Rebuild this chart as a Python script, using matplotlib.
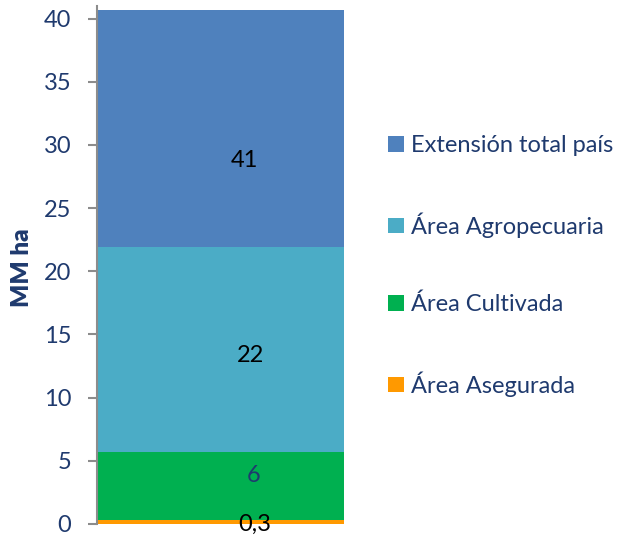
import matplotlib
matplotlib.use("Agg")
import matplotlib.pyplot as plt

# values in MM ha (millions of hectares)
categories = ["Extensión total país", "Área Agropecuaria", "Área Cultivada", "Área Asegurada"]
values = [40.7, 21.9, 5.7, 0.3]
value_labels = ["41", "22", "6", "0,3"]
colors = ["#4F81BD", "#4BACC6", "#00B050", "#FF9900"]
label_colors = ["black", "black", "#1F3A6E", "black"]

# where the data labels sit (layout only)
label_x = [0.095, 0.12, 0.136, 0.14]
label_y = [28.8, 13.3, 3.8, 0.0]

NAVY = "#1F3A6E"
plt.rcParams["font.family"] = ["Lato", "DejaVu Sans"]

fig = plt.figure(figsize=(6.25, 5.38), dpi=100)
ax = fig.add_axes([97 / 625, 14 / 538, 247 / 625, 518 / 538])

handles = []
for cat, val, col in zip(categories, values, colors):
    h = ax.bar(0, val, width=1.0, color=col, label=cat, zorder=2)
    handles.append(h)

for lab, lx, ly, lc in zip(value_labels, label_x, label_y, label_colors):
    ax.text(lx, ly, lab, ha="center", va="center", fontsize=17, color=lc, zorder=3)

ax.set_xlim(-0.5, 0.5)
ax.set_ylim(0, 41)
ax.set_yticks(range(0, 41, 5))
ax.set_xticks([])
for side in ["top", "right", "bottom"]:
    ax.spines[side].set_visible(False)
ax.spines["left"].set_color("#8C8C8C")
ax.spines["left"].set_linewidth(1.5)
ax.tick_params(axis="y", length=6.5, width=1.5, color="#8C8C8C",
               labelsize=17, labelcolor=NAVY, pad=12)

ax.set_ylabel("MM ha", fontsize=17.5, fontweight="heavy", color=NAVY)
ax.yaxis.set_label_coords(-0.259, 0.494)

leg = fig.legend(handles=handles, labels=categories, loc="upper left",
                 bbox_to_anchor=(379 / 625, 1 - 126 / 538), frameon=False,
                 fontsize=17, handlelength=0.64, handleheight=0.64,
                 handletextpad=0.3, labelspacing=2.37, borderaxespad=0)
for t in leg.get_texts():
    t.set_color(NAVY)

fig.savefig("out.png", dpi=100)
